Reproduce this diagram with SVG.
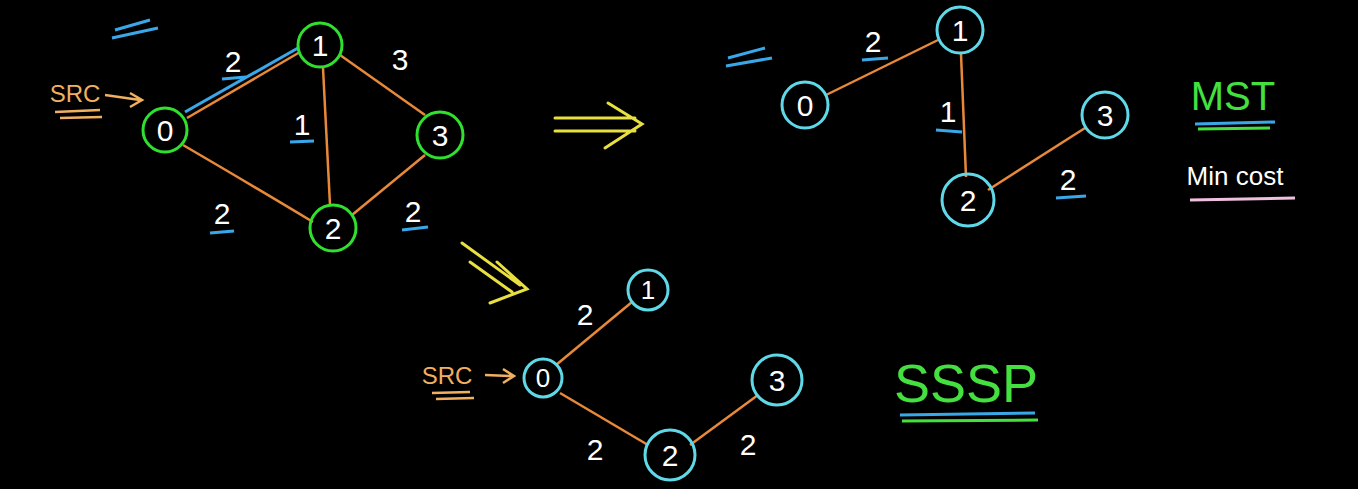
<svg xmlns="http://www.w3.org/2000/svg" width="1358" height="489" viewBox="0 0 1358 489">
<style>
.e{stroke:#e8893a;stroke-width:2.5;fill:none}
.ng circle{fill:none;stroke:#2fe02f;stroke-width:3}
.nc circle{fill:none;stroke:#5fd8e8;stroke-width:3}
.t{font-family:"Liberation Sans",sans-serif;fill:#fff;text-anchor:middle}
.lbl{font-size:30px}
.bl{stroke:#3aa8e8;stroke-width:3;fill:none}
.y{stroke:#e8e040;stroke-width:3;fill:none;stroke-linecap:round}
.o{stroke:#f0b060;stroke-width:2.5;fill:none}
</style>
<rect width="1358" height="489" fill="#000"/>
<g id="connectors">
<line class="e" x1="187" y1="118" x2="300" y2="52"/>
<line class="bl" x1="185" y1="112" x2="298" y2="48"/>
<line class="e" x1="340" y1="55" x2="425" y2="115"/>
<line class="e" x1="323" y1="68" x2="330" y2="205"/>
<path class="e" d="M183,145 Q260,190 313,222"/>
<line class="e" x1="352" y1="215" x2="425" y2="155"/>
<line class="e" x1="826" y1="95" x2="938" y2="40"/>
<line class="e" x1="961" y1="54" x2="966" y2="177"/>
<line class="e" x1="988" y1="190" x2="1085" y2="128"/>
<line class="e" x1="556" y1="365" x2="632" y2="302"/>
<line class="e" x1="560" y1="393" x2="648" y2="445"/>
<line class="e" x1="690" y1="445" x2="758" y2="395"/>
<path class="y" d="M555,118 L635,118 M555,131 L635,131 M608,103 L642,124 L605,148"/>
<path class="y" d="M462,243 L520,285 M470,262 L512,292 M497,262 L527,289 L490,303"/>
<path class="o" d="M105,95 L140,100 M130,93 L142,100 L130,107"/>
<path class="o" d="M485,375 L512,376 M503,369 L514,376 L503,383"/>
</g>
<g id="n0"><g class="ng"><circle cx="165" cy="130" r="22"/></g><text class="t lbl" x="165" y="141">0</text></g>
<g id="n1"><g class="ng"><circle cx="320" cy="45" r="22"/></g><text class="t lbl" x="320" y="56">1</text></g>
<g id="n3"><g class="ng"><circle cx="440" cy="135" r="23"/></g><text class="t lbl" x="440" y="146">3</text></g>
<g id="n2"><g class="ng"><circle cx="333" cy="228" r="23"/></g><text class="t lbl" x="333" y="239">2</text></g>
<g id="m0"><g class="nc"><circle cx="805" cy="105" r="23"/></g><text class="t lbl" x="805" y="116">0</text></g>
<g id="m1"><g class="nc"><circle cx="960" cy="30" r="23"/></g><text class="t lbl" x="960" y="41">1</text></g>
<g id="m3"><g class="nc"><circle cx="1105" cy="115" r="23"/></g><text class="t lbl" x="1105" y="126">3</text></g>
<g id="m2"><g class="nc"><circle cx="968" cy="200" r="26"/></g><text class="t lbl" x="968" y="211">2</text></g>
<g id="s0"><g class="nc"><circle cx="543" cy="378" r="19"/></g><text class="t" font-size="26" x="543" y="387">0</text></g>
<g id="s1"><g class="nc"><circle cx="648" cy="290" r="20"/></g><text class="t" font-size="26" x="648" y="299">1</text></g>
<g id="s3"><g class="nc"><circle cx="777" cy="380" r="25"/></g><text class="t lbl" x="777" y="391">3</text></g>
<g id="s2"><g class="nc"><circle cx="670" cy="455" r="25"/></g><text class="t lbl" x="670" y="466">2</text></g>
<g id="labels">
<text class="t lbl" x="233" y="72">2</text><path class="bl" d="M222,79 L246,77"/>
<text class="t lbl" x="400" y="70">3</text>
<text class="t lbl" x="302" y="135">1</text><path class="bl" d="M290,142 L314,141"/>
<text class="t lbl" x="222" y="224">2</text><path class="bl" d="M210,233 L234,231"/>
<text class="t lbl" x="413" y="222">2</text><path class="bl" d="M402,230 L428,227"/>
<path class="bl" d="M115,30 L150,20 M112,38 L158,28"/>
<path class="bl" d="M728,58 L765,48 M726,66 L772,58"/>
<text class="t lbl" x="873" y="52">2</text><path class="bl" d="M862,60 L888,58"/>
<text class="t lbl" x="948" y="122">1</text><path class="bl" d="M936,130 L962,132"/>
<text class="t lbl" x="1068" y="190">2</text><path class="bl" d="M1056,198 L1086,196"/>
<text class="t lbl" x="585" y="325">2</text>
<text class="t lbl" x="595" y="460">2</text>
<text class="t lbl" x="748" y="455">2</text>
<text class="t" x="75" y="102" font-size="24" fill="#f0b060" style="fill:#f0b060">SRC</text>
<path class="o" d="M55,112 L100,110 M60,118 L102,117"/>
<text class="t" x="447" y="384" font-size="24" style="fill:#f0b060">SRC</text>
<path class="o" d="M432,393 L470,392 M436,399 L474,398"/>
<text class="t" x="1233" y="110" font-size="40" style="fill:#44e040">MST</text>
<path d="M1195,124 L1275,122" stroke="#3aa8e8" stroke-width="3"/><path d="M1198,129 L1270,128" stroke="#44e040" stroke-width="3"/>
<text class="t" x="1235" y="185" font-size="26">Min cost</text>
<path d="M1190,200 L1295,198" stroke="#f0c0e0" stroke-width="3"/>
<text class="t" x="966" y="402" font-size="54" style="fill:#44e040">SSSP</text>
<path d="M900,415 L1035,413" stroke="#3aa8e8" stroke-width="3"/><path d="M902,421 L1038,420" stroke="#44e040" stroke-width="3"/>
</g>
</svg>
